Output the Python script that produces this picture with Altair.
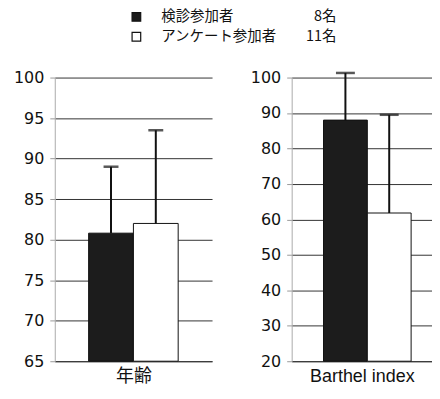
import altair as alt
import pandas as pd

groups = ["検診参加者", "アンケート参加者"]
counts = ["8名", "11名"]
age_mean = [80.8, 82.0]
age_sd = [8.2, 11.5]
barthel_mean = [88.0, 61.8]
barthel_sd = [13.3, 27.7]

TICK_FONT = "DejaVu Sans"
JP_FONT = "Noto Sans CJK JP"
PLOT_H = 285

def panel_df(means, sds):
    return pd.DataFrame({
        "group": groups,
        "mean": means,
        "top": [m + s for m, s in zip(means, sds)],
    })

color_scale = alt.Scale(domain=groups, range=["#1c1c1c", "#ffffff"])

def panel(df, title, ymin, ymax, step, width, pad_outer, align, title_font, cap_size):
    xaxis = alt.Axis(labels=False, ticks=False, title=title, titleFont=title_font,
                     titleFontSize=18, titleFontWeight="normal", titleColor="#111",
                     titlePadding=6, domainColor="#333", domainWidth=1)
    xscale = alt.Scale(paddingInner=0, paddingOuter=pad_outer, align=align)
    yscale = alt.Scale(domain=[ymin, ymax], zero=False, nice=False)
    yaxis = alt.Axis(values=list(range(ymin, ymax + 1, step)), title=None,
                     labelFont=TICK_FONT, labelFontSize=16, labelColor="#111",
                     labelPadding=6, labelOverlap=False, tickColor="#999", tickSize=5,
                     domainColor="#aaa", gridColor="#333", gridWidth=1)
    x = alt.X("group:N", sort=groups, scale=xscale, axis=xaxis)
    base = alt.Chart(df)
    bars = base.mark_bar(stroke="#111", strokeWidth=1).encode(
        x=x,
        y=alt.Y("mean:Q", scale=yscale, axis=yaxis),
        y2=alt.datum(ymin),
        color=alt.Color("group:N", scale=color_scale, legend=None),
    )
    err = base.mark_rule(color="#111", strokeWidth=2, clip=False).encode(
        x=x,
        y=alt.Y("mean:Q", scale=yscale, axis=yaxis),
        y2="top:Q",
    )
    cap = base.mark_tick(color="#111", thickness=2.5, size=cap_size, clip=False).encode(
        x=x,
        y=alt.Y("top:Q", scale=yscale, axis=yaxis),
    )
    return alt.layer(bars, err, cap).properties(width=width, height=PLOT_H)

left = panel(panel_df(age_mean, age_sd), "年齢", 65, 100, 5, 158, 0.756, 0.5, JP_FONT, 15)
right = panel(panel_df(barthel_mean, barthel_sd), "Barthel index", 20, 100, 10, 141, 0.602, 0.604,
              "Liberation Sans", 19)

leg_df = pd.DataFrame({"group": groups, "count": counts})
ly = alt.Y("group:N", sort=groups, scale=alt.Scale(type="point", padding=0.25), axis=None)
leg_base = alt.Chart(leg_df)
leg_sq = leg_base.mark_square(size=75, stroke="#111", strokeWidth=1.2, opacity=1).encode(
    x=alt.value(82), y=ly,
    color=alt.Color("group:N", scale=color_scale, legend=None),
)
leg_txt = leg_base.mark_text(align="left", baseline="middle", font=JP_FONT, fontSize=14.5,
                             color="#111").encode(x=alt.value(107), y=ly, text="group:N")
leg_cnt = leg_base.mark_text(align="right", baseline="middle", font=JP_FONT, fontSize=14.5,
                             color="#111").encode(x=alt.value(283), y=ly, text="count:N")
legend = alt.layer(leg_sq, leg_txt, leg_cnt).properties(width=290, height=30)

chart = alt.vconcat(
    legend,
    alt.hconcat(left, right, spacing=38).resolve_scale(y="independent", x="independent", color="shared"),
    spacing=26,
).properties(padding={"left": 5, "top": 0, "right": 0, "bottom": 0}).configure_view(stroke=None)

chart.save("out.html", embed_options={"renderer": "svg", "actions": False})
